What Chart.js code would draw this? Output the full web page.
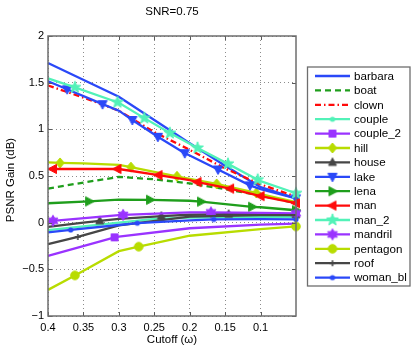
<!DOCTYPE html>
<html><head><meta charset="utf-8">
<script src="https://cdn.jsdelivr.net/npm/chart.js@4/dist/chart.umd.min.js"></script>
<style>html,body{margin:0;padding:0;background:#fff;}</style>
</head><body>
<canvas id="c" width="415" height="352"></canvas>
<script>
// ---------- DATA ----------
const titleText = 'SNR=0.75';
const xLabel = 'Cutoff (\u03C9)';
const yLabel = 'PSNR Gain (dB)';
const xTicks = [0.4, 0.35, 0.3, 0.25, 0.2, 0.15, 0.1];
const yTicks = [2, 1.5, 1, 0.5, 0, -0.5, -1];
const seriesNames = ['barbara','boat','clown','couple','couple_2','hill','house','lake','lena','man','man_2','mandril','pentagon','roof','woman_bl'];

const barbara = [[0.4,1.71],[0.3,1.35],[0.25,1.1],[0.2,0.85],[0.15,0.61],[0.1,0.38],[0.05,0.26]];
const barbaraMarks = [];
const boat = [[0.4,0.365],[0.35,0.43],[0.3,0.49],[0.25,0.465],[0.2,0.42],[0.15,0.36],[0.1,0.29],[0.05,0.21]];
const boatMarks = [];
const clown = [[0.4,1.47],[0.35,1.34],[0.3,1.2],[0.25,0.97],[0.2,0.78],[0.15,0.58],[0.1,0.41],[0.05,0.28]];
const clownMarks = [];
const couple = [[0.4,-0.08],[0.35,-0.04],[0.3,0.0],[0.25,0.04],[0.2,0.055],[0.1,0.06],[0.05,0.06]];
const coupleMarks = [0.05];
const couple_2 = [[0.4,-0.355],[0.306,-0.157],[0.3,-0.15],[0.2,-0.06],[0.1,-0.02],[0.05,-0.01]];
const couple_2Marks = [0.306];
const hill = [[0.4,0.645],[0.383,0.64],[0.35,0.635],[0.3,0.62],[0.283,0.595],[0.25,0.545],[0.218,0.497],[0.2,0.47],[0.162,0.415],[0.15,0.395],[0.106,0.318],[0.1,0.305],[0.05,0.22]];
const hillMarks = [0.383,0.283,0.218,0.162,0.106];
const house = [[0.4,-0.045],[0.35,0.0],[0.327,0.02],[0.3,0.04],[0.25,0.065],[0.24,0.07],[0.2,0.085],[0.15,0.09],[0.145,0.09],[0.1,0.09],[0.05,0.085]];
const houseMarks = [0.327,0.24,0.145,0.05];
const lake = [[0.4,1.515],[0.373,1.43],[0.323,1.27],[0.3,1.2],[0.281,1.1],[0.245,0.92],[0.207,0.745],[0.2,0.72],[0.16,0.57],[0.115,0.4],[0.1,0.36],[0.05,0.26]];
const lakeMarks = [0.373,0.323,0.281,0.245,0.207,0.16,0.115,0.05];
const lena = [[0.4,0.208],[0.342,0.228],[0.3,0.247],[0.256,0.245],[0.2,0.235],[0.184,0.225],[0.112,0.17],[0.1,0.165],[0.05,0.133]];
const lenaMarks = [0.342,0.256,0.184,0.112,0.05];
const man = [[0.4,0.575],[0.393,0.575],[0.302,0.575],[0.3,0.575],[0.244,0.51],[0.2,0.455],[0.189,0.435],[0.143,0.365],[0.1,0.285],[0.05,0.21]];
const manMarks = [0.393,0.302,0.244,0.189,0.143,0.1,0.05];
const man_2 = [[0.4,1.545],[0.362,1.45],[0.302,1.29],[0.3,1.285],[0.264,1.12],[0.228,0.96],[0.2,0.845],[0.189,0.8],[0.146,0.63],[0.104,0.46],[0.1,0.445],[0.05,0.315]];
const man_2Marks = [0.362,0.302,0.264,0.228,0.189,0.146,0.104,0.05];
const mandril = [[0.4,0.005],[0.393,0.02],[0.3,0.08],[0.294,0.083],[0.2,0.11],[0.17,0.11],[0.1,0.105],[0.05,0.1]];
const mandrilMarks = [0.393,0.294,0.17,0.05];
const pentagon = [[0.4,-0.72],[0.362,-0.565],[0.3,-0.305],[0.272,-0.257],[0.2,-0.14],[0.1,-0.07],[0.05,-0.04]];
const pentagonMarks = [0.362,0.272,0.05];
const roof = [[0.4,-0.23],[0.358,-0.153],[0.3,-0.03],[0.2,0.065],[0.1,0.08],[0.05,0.08]];
const roofMarks = [0.358];
const woman_bl = [[0.4,-0.105],[0.368,-0.078],[0.3,-0.025],[0.274,-0.005],[0.2,0.025],[0.166,0.035],[0.1,0.038],[0.05,0.035]];
const woman_blMarks = [0.368,0.274,0.166,0.05];

// ---------- STYLES ----------
const BLUE = '#2a48f8', GREEN = '#1f9e1c', RED = '#ff0a0a', AQUA = '#52f2b8', PURPLE = '#9a33ff', LIME = '#b8dc00', GRAY = '#464646';
const styleDefs = [
  {data: barbara,  marks: barbaraMarks,  color: BLUE,   dash: [],          marker: null},
  {data: boat,     marks: boatMarks,     color: GREEN,  dash: [6,4],       marker: null},
  {data: clown,    marks: clownMarks,    color: RED,    dash: [6,3,1.5,3], marker: null},
  {data: couple,   marks: coupleMarks,   color: AQUA,   dash: [],          marker: 'dot'},
  {data: couple_2, marks: couple_2Marks, color: PURPLE, dash: [],          marker: 'square'},
  {data: hill,     marks: hillMarks,     color: LIME,   dash: [],          marker: 'diamond'},
  {data: house,    marks: houseMarks,    color: GRAY,   dash: [],          marker: 'triUp'},
  {data: lake,     marks: lakeMarks,     color: BLUE,   dash: [],          marker: 'triDown'},
  {data: lena,     marks: lenaMarks,     color: GREEN,  dash: [],          marker: 'triRight'},
  {data: man,      marks: manMarks,      color: RED,    dash: [],          marker: 'triLeft'},
  {data: man_2,    marks: man_2Marks,    color: AQUA,   dash: [],          marker: 'pentagram'},
  {data: mandril,  marks: mandrilMarks,  color: PURPLE, dash: [],          marker: 'hexagram'},
  {data: pentagon, marks: pentagonMarks, color: LIME,   dash: [],          marker: 'circle'},
  {data: roof,     marks: roofMarks,     color: GRAY,   dash: [],          marker: 'plus'},
  {data: woman_bl, marks: woman_blMarks, color: BLUE,   dash: [],          marker: 'dot'}
];

function makeMarker(kind, color) {
  const S = 16, m = 8;
  const c = document.createElement('canvas'); c.width = S; c.height = S;
  const g = c.getContext('2d');
  g.fillStyle = color; g.strokeStyle = color; g.lineWidth = 1; g.lineJoin = 'miter';
  const poly = pts => { g.beginPath(); pts.forEach((p, i) => i ? g.lineTo(m + p[0], m + p[1]) : g.moveTo(m + p[0], m + p[1])); g.closePath(); g.fill(); g.stroke(); };
  const star = (n, ro, ri) => { const pts = []; for (let i = 0; i < 2 * n; i++) { const r = i % 2 ? ri : ro; const a = -Math.PI / 2 + i * Math.PI / n; pts.push([r * Math.cos(a), r * Math.sin(a)]); } poly(pts); };
  switch (kind) {
    case 'dot': g.beginPath(); g.arc(m, m, 2.6, 0, 2 * Math.PI); g.fill(); break;
    case 'circle': g.beginPath(); g.arc(m, m, 4.3, 0, 2 * Math.PI); g.fill(); g.stroke(); break;
    case 'square': poly([[-3.5,-3.5],[3.5,-3.5],[3.5,3.5],[-3.5,3.5]]); break;
    case 'diamond': poly([[0,-5],[4.2,0],[0,5],[-4.2,0]]); break;
    case 'triUp': poly([[0,-4.5],[4,3],[-4,3]]); break;
    case 'triDown': poly([[0,5],[4.6,-3.5],[-4.6,-3.5]]); break;
    case 'triLeft': poly([[-5,0],[3.5,-4.6],[3.5,4.6]]); break;
    case 'triRight': poly([[5,0],[-3.5,-4.6],[-3.5,4.6]]); break;
    case 'pentagram': star(5, 6.2, 2.6); break;
    case 'hexagram': star(6, 5.6, 3.2); break;
    case 'plus': g.lineWidth = 1.6; g.beginPath(); g.moveTo(m - 3, m); g.lineTo(m + 3, m); g.moveTo(m, m - 3); g.lineTo(m, m + 3); g.stroke(); break;
  }
  return c;
}

const markerImgs = styleDefs.map(s => s.marker ? makeMarker(s.marker, s.color) : null);

const datasets = styleDefs.map((s, i) => ({
  label: seriesNames[i],
  data: s.data.map(p => ({x: p[0], y: p[1]})),
  borderColor: s.color,
  backgroundColor: s.color,
  borderWidth: 2.3,
  borderDash: s.dash,
  tension: 0,
  fill: false,
  clip: false,
  order: -i,
  pointStyle: markerImgs[i] || 'circle',
  pointRadius: s.data.map(p => (markerImgs[i] && s.marks.includes(p[0])) ? 4 : 0),
  pointHoverRadius: 0
}));

const FONT = '"Liberation Sans", Arial, Helvetica, sans-serif';
const fmtNum = v => String(+v.toFixed(2)).replace('-', '\u2212');

const decor = {
  id: 'decor',
  afterDraw(chart) {
    const ctx = chart.ctx, a = chart.chartArea;
    const xs = chart.scales.x, ys = chart.scales.y;
    ctx.save();
    // inner tick marks
    ctx.strokeStyle = '#5a5a5a'; ctx.lineWidth = 1;
    ctx.beginPath();
    xTicks.forEach(v => { const px = Math.round(xs.getPixelForValue(v)) + 0.5; ctx.moveTo(px, a.bottom); ctx.lineTo(px, a.bottom - 4); ctx.moveTo(px, a.top); ctx.lineTo(px, a.top + 4); });
    yTicks.forEach(v => { const py = Math.round(ys.getPixelForValue(v)) + 0.5; ctx.moveTo(a.left, py); ctx.lineTo(a.left + 4, py); ctx.moveTo(a.right, py); ctx.lineTo(a.right - 4, py); });
    ctx.stroke();
    // axes box
    ctx.strokeStyle = '#6e6e6e'; ctx.lineWidth = 1.5;
    ctx.strokeRect(a.left, a.top, a.right - a.left, a.bottom - a.top);
    // title & axis titles
    ctx.fillStyle = '#000';
    ctx.font = '11.5px ' + FONT; ctx.textAlign = 'center'; ctx.textBaseline = 'middle';
    const cx = (a.left + a.right) / 2;
    ctx.fillText(titleText, cx, 12);
    ctx.fillText(xLabel, cx, 340);
    ctx.save(); ctx.translate(11, 180); ctx.rotate(-Math.PI / 2); ctx.fillText(yLabel, 0, 0); ctx.restore();
    // legend
    const L = 307.5, T = 67, R = 410, B = 286;
    ctx.fillStyle = '#fff'; ctx.fillRect(L, T, R - L, B - T);
    ctx.strokeStyle = '#6e6e6e'; ctx.lineWidth = 1.3; ctx.strokeRect(L, T, R - L, B - T);
    ctx.font = '11.6px ' + FONT; ctx.textAlign = 'left'; ctx.textBaseline = 'middle';
    styleDefs.forEach((s, i) => {
      const y = 76 + i * 14.4;
      ctx.strokeStyle = s.color; ctx.lineWidth = 2.3; ctx.setLineDash(s.dash);
      ctx.beginPath(); ctx.moveTo(315, y); ctx.lineTo(350, y); ctx.stroke();
      ctx.setLineDash([]);
      if (markerImgs[i]) ctx.drawImage(markerImgs[i], 332.5 - 8, y - 8);
      ctx.fillStyle = '#000';
      ctx.fillText(seriesNames[i], 354, y + 0.5);
    });
    ctx.restore();
  }
};

new Chart(document.getElementById('c'), {
  type: 'line',
  data: { datasets },
  options: {
    responsive: false,
    animation: false,
    devicePixelRatio: 1,
    layout: { padding: { top: 36, right: 119, bottom: 0, left: 0 } },
    plugins: { legend: { display: false }, tooltip: { enabled: false }, title: { display: false } },
    events: [],
    scales: {
      x: {
        type: 'linear', reverse: true, min: 0.05, max: 0.4,
        afterBuildTicks: s => { s.ticks = xTicks.map(v => ({ value: v })); },
        afterFit: s => { s.height = 36; },
        ticks: { callback: v => fmtNum(v), color: '#000', font: { family: FONT, size: 11 }, padding: 5, maxRotation: 0, autoSkip: false },
        grid: { color: 'rgba(0,0,0,0.45)', lineWidth: 1, drawTicks: false },
        border: { display: false, dash: [1, 3] }
      },
      y: {
        type: 'linear', min: -1, max: 2,
        afterBuildTicks: s => { s.ticks = yTicks.map(v => ({ value: v })); },
        afterFit: s => { s.width = 48; },
        ticks: { callback: v => fmtNum(v), color: '#000', font: { family: FONT, size: 11 }, padding: 4, autoSkip: false },
        grid: { color: 'rgba(0,0,0,0.45)', lineWidth: 1, drawTicks: false },
        border: { display: false, dash: [1, 3] }
      }
    }
  },
  plugins: [decor]
});
</script>
</body></html>
